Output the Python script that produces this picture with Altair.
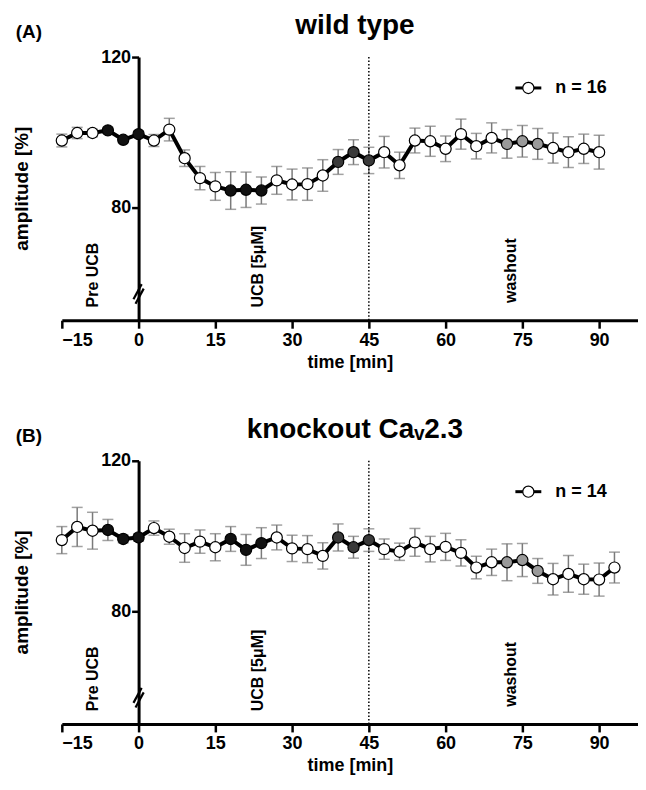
import altair as alt
import pandas as pd

# ---------------- data ----------------
time_a = [-15, -12, -9, -6, -3, 0, 3, 6, 9, 12, 15, 18, 21, 24, 27, 30, 33, 36,
          39, 42, 45, 48, 51, 54, 57, 60, 63, 66, 69, 72, 75, 78, 81, 84, 87, 90]
amp_a = [97.8, 99.8, 99.8, 100.5, 98.0, 99.5, 97.8, 100.7, 93.1, 87.8, 85.6, 84.5,
         84.7, 84.5, 87.2, 86.1, 86.2, 88.5, 92.1, 94.7, 92.5, 94.7, 91.2, 97.8,
         97.6, 95.6, 99.5, 96.3, 98.5, 96.9, 97.6, 96.9, 95.8, 94.7, 95.6, 94.7]
sem_a = [1.7, 1.5, 1.0, 0.8, 0.8, 0.8, 1.6, 3.0, 2.2, 3.1, 3.7, 5.0,
         4.7, 3.6, 3.7, 4.1, 4.3, 4.2, 3.3, 3.3, 3.5, 4.2, 3.5, 3.3,
         4.0, 3.4, 4.0, 3.4, 4.0, 3.8, 4.2, 4.1, 4.0, 4.1, 3.9, 4.5]
fill_a = ["w", "w", "w", "k", "k", "k", "w", "w", "w", "w", "w", "k",
          "k", "k", "w", "w", "w", "w", "d", "d", "d", "w", "w", "w",
          "w", "w", "w", "w", "w", "g", "g", "g", "w", "w", "w", "w"]

time_b = [-15, -12, -9, -6, -3, 0, 3, 6, 9, 12, 15, 18, 21, 24, 27, 30, 33, 36,
          39, 42, 45, 48, 51, 54, 57, 60, 63, 66, 69, 72, 75, 78, 81, 84, 87, 90, 93]
amp_b = [98.9, 102.4, 101.4, 101.6, 99.2, 99.6, 102.1, 99.8, 96.8, 98.5, 97.0, 99.2,
         96.3, 98.1, 99.6, 96.7, 96.5, 94.7, 99.6, 97.0, 98.9, 96.5, 95.8, 98.3,
         96.5, 97.1, 95.5, 91.6, 93.0, 93.0, 93.6, 90.7, 88.5, 89.9, 88.5, 88.4, 91.6]
sem_b = [3.6, 5.2, 4.9, 2.8, 1.0, 1.0, 1.9, 2.0, 3.8, 3.1, 3.6, 3.3,
         4.1, 4.1, 3.3, 3.5, 3.6, 3.5, 3.6, 2.9, 3.0, 2.7, 2.3, 3.7,
         3.4, 3.6, 3.5, 3.0, 3.5, 4.9, 4.4, 3.3, 4.2, 4.9, 4.0, 4.4, 4.1]
fill_b = ["w", "w", "w", "k", "k", "k", "w", "w", "w", "w", "w", "k",
          "k", "k", "w", "w", "w", "w", "d", "d", "d", "w", "w", "w",
          "w", "w", "w", "w", "w", "g", "g", "g", "w", "w", "w", "w", "w"]

x_ticks = [-15, 0, 15, 30, 45, 60, 75, 90]
y_ticks = [80, 120]
phase_labels = ["Pre UCB", "UCB [5μM]", "washout"]
phase_times = [-9, 23.3, 72.7]

FONT = "Liberation Sans"
W, H = 578, 264
X_DOM = [-15, 97.6]
Y_DOM = [50, 120]
Y_AXIS_SHIFT = (0 - X_DOM[0]) / (X_DOM[1] - X_DOM[0]) * W

fill_scale = alt.Scale(domain=["w", "k", "d", "g"],
                       range=["#ffffff", "#111111", "#3a3a3a", "#9a9a9a"])


def panel(t, a, s, f, title_text, tag, legend_text):
    df = pd.DataFrame({"time": t, "amp": a, "sem": s, "fill": f})
    df["lo"] = df["amp"] - df["sem"]
    df["hi"] = df["amp"] + df["sem"]

    xs = alt.Scale(domain=X_DOM, nice=False, zero=False)
    ys = alt.Scale(domain=Y_DOM, nice=False, zero=False)
    xaxis = alt.Axis(values=x_ticks, title="time [min]", grid=False,
                     domainWidth=3, domainColor="black", tickWidth=2.5,
                     tickColor="black", tickSize=8, labelFontSize=18,
                     labelFontWeight="bold", labelColor="black", labelPadding=3,
                     labelFont=FONT, titleFont=FONT,
                     titleFontSize=18, titleFontWeight="bold", titlePadding=4,
                     titleColor="black", format="d")
    yaxis = alt.Axis(values=y_ticks, title=None, grid=False, offset=-Y_AXIS_SHIFT,
                     domainWidth=3, domainColor="black", tickWidth=2.5,
                     tickColor="black", tickSize=7, labelFontSize=18,
                     labelFont=FONT,
                     labelFontWeight="bold", labelColor="black", labelPadding=1)

    def X(field):
        return alt.X(field, type="quantitative", scale=xs, axis=xaxis)

    def Y(field):
        return alt.Y(field, type="quantitative", scale=ys, axis=yaxis)

    base = alt.Chart(df)
    err = base.mark_rule(color="#7a7a7a", strokeWidth=1.5).encode(
        x=X("time"), y=Y("lo"), y2="hi")
    cap_lo = base.mark_tick(color="#7a7a7a", thickness=1.5, size=11,
                            orient="horizontal").encode(x=X("time"), y=Y("lo"))
    cap_hi = base.mark_tick(color="#7a7a7a", thickness=1.5, size=11,
                            orient="horizontal").encode(x=X("time"), y=Y("hi"))
    line = base.mark_line(color="black", strokeWidth=4).encode(
        x=X("time"), y=Y("amp"))
    pts = base.mark_point(filled=True, size=125, stroke="black", strokeWidth=1.2,
                          opacity=1).encode(
        x=X("time"), y=Y("amp"),
        fill=alt.Fill("fill:N", scale=fill_scale, legend=None))

    vdf = pd.DataFrame({"time": [45], "top": [Y_DOM[1]], "bot": [Y_DOM[0]]})
    vline = alt.Chart(vdf).mark_rule(color="black", strokeWidth=1.5,
                                     strokeDash=[1.5, 2]).encode(
        x=X("time"), y=Y("top"), y2="bot")

    bdf = pd.DataFrame({"x1": [-1.0, -0.6], "x2": [0.6, 1.0],
                        "y1": [55.6, 54.4], "y2": [59.6, 58.4]})
    brk = alt.Chart(bdf).mark_rule(color="black", strokeWidth=2.2).encode(
        x=X("x1"), x2="x2", y=Y("y1"), y2="y2")

    adf = pd.DataFrame({"time": phase_times, "label": phase_labels,
                        "yy": [53.4, 53.4, 54.6]})
    ann = alt.Chart(adf).mark_text(angle=270, align="left", baseline="middle",
                                   fontSize=16, fontWeight="bold", font=FONT,
                                   color="black").encode(
        x=X("time"), y=Y("yy"), text="label:N")

    one = alt.Chart(pd.DataFrame({"k": [0]}))
    leg_line = one.mark_rule(color="black", strokeWidth=3).encode(
        x=alt.value(455), x2=alt.value(481), y=alt.value(31))
    leg_pt = one.mark_point(filled=True, fill="white", stroke="black",
                            strokeWidth=1.2, size=125, opacity=1).encode(
        x=alt.value(468), y=alt.value(31))
    leg_txt = one.mark_text(align="left", baseline="middle", fontSize=18,
                            fontWeight="bold", font=FONT, color="black").encode(
        x=alt.value(495), y=alt.value(31), text=alt.value(legend_text))

    ytitle = one.mark_text(angle=270, align="center", baseline="middle",
                           fontSize=19, fontWeight="bold", font=FONT,
                           color="black").encode(
        x=alt.value(-40), y=alt.value(H / 2), text=alt.value("amplitude [%]"))
    tag_txt = one.mark_text(align="center", baseline="middle", fontSize=19,
                            fontWeight="bold", font=FONT, color="black").encode(
        x=alt.value(-33), y=alt.value(-25), text=alt.value(tag))
    title_txt = one.mark_text(align="center", baseline="middle", fontSize=28,
                              fontWeight="bold", font=FONT, color="black").encode(
        x=alt.value(294), y=alt.value(-31), text=alt.value(title_text))

    return alt.layer(err, cap_lo, cap_hi, vline, line, pts, brk, ann,
                     leg_line, leg_pt, leg_txt, ytitle, tag_txt,
                     title_txt).properties(width=W, height=H)


pa = panel(time_a, amp_a, sem_a, fill_a, "wild type", "(A)", "n = 16")
pb = panel(time_b, amp_b, sem_b, fill_b, "knockout Caᵥ2.3", "(B)", "n = 14")

chart = alt.vconcat(pa, pb, spacing=45).properties(
    padding={"left": 5, "top": 3, "right": 0, "bottom": 0}
).configure(font=FONT).configure_view(stroke=None)

chart.save("out.html", embed_options={"renderer": "svg", "actions": False})
